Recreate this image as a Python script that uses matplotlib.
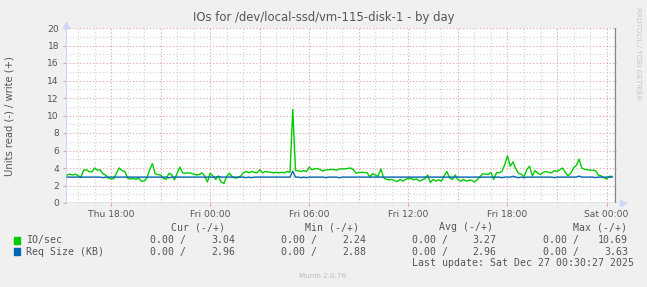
import numpy as np
import matplotlib
matplotlib.use("Agg")
import matplotlib.pyplot as plt

# 10 minute samples, hours relative to Fri 00:00, starting Thu 15:20
t_start = -8 - 40 / 60
t_step = 1 / 6

io_sec = [3.2, 3.3, 3.2, 3.3, 3.15, 2.9, 3.75, 3.8, 3.6, 3.55,
          4.0, 3.75, 3.8, 3.35, 3.2, 2.85, 2.75, 2.8, 3.45, 4.0,
          3.7, 3.6, 2.85, 2.75, 2.8, 2.7, 2.85, 2.5, 2.5, 2.85,
          3.8, 4.5, 3.35, 3.25, 3.2, 2.8, 2.7, 3.4, 3.25, 2.65,
          3.4, 4.1, 3.45, 3.4, 3.45, 3.4, 3.3, 3.2, 3.25, 3.45,
          3.1, 2.4, 3.4, 3.1, 2.7, 3.05, 2.4, 2.24, 3.05, 3.4,
          3.0, 2.85, 2.9, 3.05, 3.45, 3.6, 3.45, 3.6, 3.5, 3.45,
          3.8, 3.45, 3.6, 3.55, 3.5, 3.45, 3.5, 3.45, 3.5, 3.45,
          3.6, 3.5, 10.69, 3.7, 3.7, 3.6, 3.7, 3.6, 4.1, 3.8,
          3.9, 3.95, 3.8, 3.65, 3.8, 3.8, 3.85, 3.8, 3.75, 3.9,
          3.9, 3.9, 3.95, 4.0, 3.8, 3.4, 3.5, 3.5, 3.5, 3.45,
          3.0, 3.35, 3.2, 3.05, 3.9, 2.9, 2.7, 2.65, 2.7, 2.55,
          2.45, 2.7, 2.5, 2.7, 2.8, 2.8, 2.65, 2.75, 2.5, 2.65,
          2.8, 3.2, 2.35, 2.7, 2.5, 2.65, 2.5, 3.1, 3.6, 2.85,
          2.7, 3.2, 2.65, 2.5, 2.7, 2.5, 2.6, 2.6, 2.4, 2.65,
          3.0, 3.35, 3.3, 3.25, 3.5, 2.7, 3.45, 3.45, 3.6, 4.4,
          5.4, 4.2, 4.7, 3.9, 3.4, 3.3, 3.0, 3.8, 4.2, 3.1,
          3.7, 3.4, 3.25, 3.5, 3.6, 3.5, 3.45, 3.7, 3.6, 3.8,
          4.0, 3.5, 3.1, 3.4, 4.0, 4.3, 5.0, 4.0, 3.85, 3.8,
          3.75, 3.75, 3.7, 3.2, 3.1, 2.9, 2.75, 3.05, 3.04]

req_size = [2.96] * len(io_sec)
for i, v in [(13, 2.9), (37, 2.88), (55, 3.05), (65, 2.9), (67, 2.9),
             (82, 3.63), (85, 2.9), (87, 2.9), (94, 2.9), (99, 2.88),
             (158, 2.9), (162, 3.05), (164, 2.9), (166, 2.9), (177, 2.9),
             (186, 3.08), (192, 2.9)]:
    req_size[i] = v

x_ticks = [-6, 0, 6, 12, 18, 24]
x_labels = ["Thu 18:00", "Fri 00:00", "Fri 06:00", "Fri 12:00", "Fri 18:00", "Sat 00:00"]
y_ticks = list(range(0, 21, 2))

legend_rows = [
    ("IO/sec", "#00CC00", ["3.04", "2.24", "3.27", "10.69"]),
    ("Req Size (KB)", "#0066B3", ["2.96", "2.88", "2.96", "3.63"]),
]
headers = ["Cur (-/+)", "Min (-/+)", "Avg (-/+)", "Max (-/+)"]

W, H = 647, 287
fig = plt.figure(figsize=(W / 100, H / 100), dpi=100, facecolor="#F0F0F0")
ax = fig.add_axes([66 / W, 1 - 203 / H, 551 / W, 175 / H])
ax.set_facecolor("white")

tt = t_start + t_step * np.arange(len(io_sec))

# grid
for h in np.arange(-8, 25, 1):
    c = "#E8A0A0" if h % 3 == 0 else "#D0D0D0"
    ax.axvline(h, color=c, lw=0.8, ls=(0, (1, 2)), zorder=1)
for v in range(1, 21):
    c = "#E8A0A0" if v % 2 == 0 else "#D0D0D0"
    ax.axhline(v, color=c, lw=0.8, ls=(0, (1, 2)), zorder=1)

ax.plot(tt, io_sec, color="#00CC00", lw=1, zorder=3)
ax.plot(tt, req_size, color="#0066B3", lw=1, zorder=4)
ax.axhline(0, color="#777777", lw=1, zorder=5)
ax.axvline(24.5, color="#888888", lw=1, zorder=5)

ax.set_xlim(-8.73, 24.63)
ax.set_ylim(0, 20)
ax.set_xticks(x_ticks)
ax.set_xticklabels(x_labels)
ax.set_yticks(y_ticks)
ax.tick_params(axis="both", length=2, color="#E8A0A0", labelsize=6.6,
               labelcolor="#555555", pad=3)
for s in ["top", "right", "bottom"]:
    ax.spines[s].set_visible(False)
ax.spines["left"].set_color("#CFD6F8")

# arrows
ax.plot([0], [1.02], marker="^", color="#CFD6F8", ms=4, transform=ax.transAxes, clip_on=False)
ax.plot([1.01], [0], marker=">", color="#CFD6F8", ms=4, transform=ax.transAxes, clip_on=False)

fig.text(324 / W, 1 - 18 / H, "IOs for /dev/local-ssd/vm-115-disk-1 - by day",
         ha="center", va="center", fontsize=8.4, color="#555555")
fig.text(10 / W, 1 - 116 / H, "Units read (-) / write (+)", rotation=90,
         ha="center", va="center", fontsize=7.2, color="#555555")
fig.text(638 / W, 1 - 53 / H, "RRDTOOL / TOBI OETIKER", rotation=-90,
         ha="center", va="center", fontsize=5.2, color="#C8C8C8")

mono = dict(family="DejaVu Sans Mono", fontsize=7.1, color="#555555", va="center")
hdr_right = [225, 359, 493, 627]
for hx, htxt in zip(hdr_right, headers):
    fig.text(hx / W, 1 - 227.5 / H, htxt, ha="right", **mono)
col_left = [150, 281, 412, 543]
col_right = [235, 366, 496, 628]
for r, (name, col, vals) in enumerate(legend_rows):
    y = 1 - (240 + 11.7 * r) / H
    fig.patches.append(plt.Rectangle((14 / W, y - 3.5 / H), 6 / W, 7 / H,
                                     transform=fig.transFigure, color=col, figure=fig))
    fig.text(26 / W, y, name, ha="left", **mono)
    for xl, xr, v in zip(col_left, col_right, vals):
        fig.text(xl / W, y, "0.00 /", ha="left", **mono)
        fig.text(xr / W, y, v, ha="right", **mono)
fig.text(412 / W, 1 - 263.5 / H, "Last update: Sat Dec 27 00:30:27 2025", ha="left", **mono)
fig.text(323 / W, 1 - 276 / H, "Munin 2.0.76", ha="center", va="center",
         fontsize=5.2, color="#BBBBBB")

fig.savefig("out.png", dpi=100, facecolor=fig.get_facecolor())
